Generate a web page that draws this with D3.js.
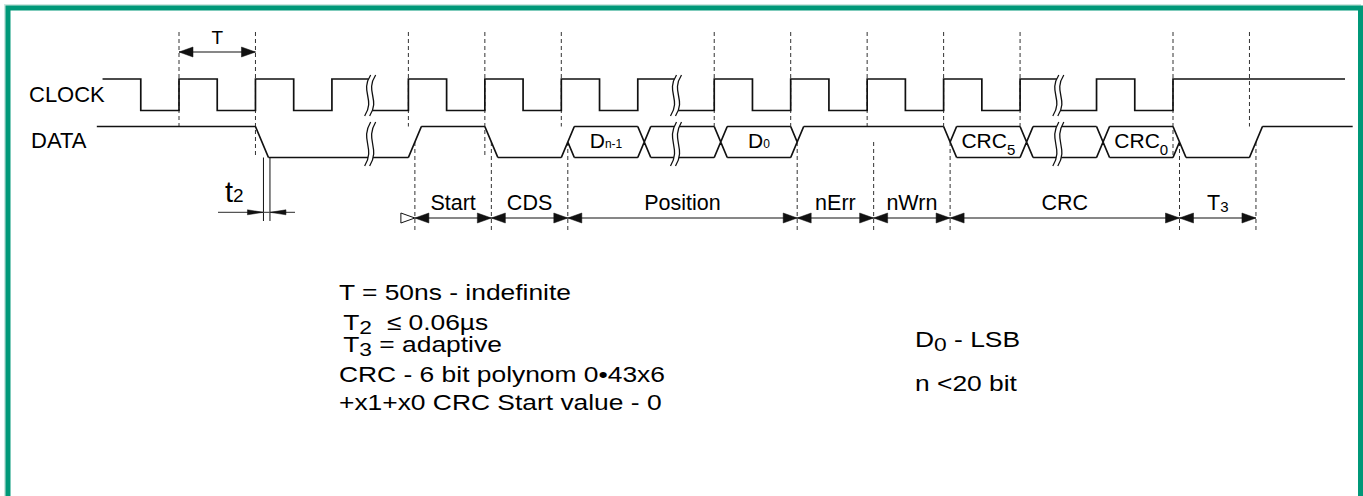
<!DOCTYPE html>
<html>
<head>
<meta charset="utf-8">
<script src="https://cdn.jsdelivr.net/npm/d3@7"></script>
<style>
  html, body { margin: 0; padding: 0; background: #fff; }
  svg { display: block; }
  text { font-family: "Liberation Sans", Arial, sans-serif; fill: #000; }
</style>
</head>
<body>
<svg id="chart" width="1363" height="496"></svg>
<script>
// steps are half clock periods, step 0 = first marked rising edge
const clockEdges = [-1, 0, 1, 2, 3, 4, 6, 7, 8, 9, 10, 11, 12, 14, 15, 16, 17, 18, 19, 20, 21, 22, 24, 25, 26];
const clockSpan = [-2, 30.5];
const breakSteps = [5, 13, 23];

const dataBounds = [-2.15, 2, 6, 8, 10, 12, 14, 16, 20, 22, 24, 26, 28, 30.7];
const dataLevels = ["hi", "lo", "hi", "lo", "bus", "bus", "bus", "hi", "bus", "bus", "bus", "lo", "hi"];
const busNames = ["", "", "", "", "D", "", "D", "", "CRC", "", "CRC", "", ""];
const busSubs = ["", "", "", "", "n-1", "", "0", "", "5", "", "0", "", ""];

const guideSteps = [0, 2, 6, 8, 10, 14, 16, 18, 20, 22, 26, 28];
const fieldBounds = [6, 8, 10, 16, 18, 20, 26, 28];
const fieldNames = ["Start", "CDS", "Position", "nErr", "nWrn", "CRC", "T"];
const fieldSubs = ["", "", "", "", "", "", "3"];

const noteLines = [
  ["T = 50ns - indefinite"],
  ["T", "2", "\u00a0 \u2264 0.06\u00b5s"],
  ["T", "3", " = adaptive"],
  ["CRC - 6 bit polynom 0\u202243x6"],
  ["+x1+x0 CRC Start value - 0"]
];
const sideNotes = [["D", "0", " - LSB"], ["n <20 bit"]];

// ---- layout
const svg = d3.select("#chart");
const x = d3.scaleLinear().domain([0, 26]).range([179, 1173]);
const clk = { hi: 79, lo: 110.5 };
const dat = { hi: 126.5, lo: 157.5 };
dat.mid = (dat.hi + dat.lo) / 2;
const slant = 13;
const ink = "#111";

/** frame */
svg.append("rect").attr("x", 5).attr("y", 5).attr("width", 1355).attr("height", 520)
  .attr("fill", "none").attr("stroke", "#cde6df").attr("stroke-width", 2);
svg.append("rect").attr("x", 8).attr("y", 8).attr("width", 1352.5).attr("height", 520)
  .attr("fill", "none").attr("stroke", "#009878").attr("stroke-width", 5);

/** dashed guides from the top down to the data line */
function levelAt(k) {
  for (let i = 0; i < dataLevels.length; i++) {
    if (k >= dataBounds[i] && k < dataBounds[i + 1]) return dataLevels[i];
  }
  return "hi";
}
svg.selectAll(".guideTop").data(guideSteps).join("line")
  .attr("class", "guideTop")
  .attr("x1", d => x(d)).attr("x2", d => x(d))
  .attr("y1", 32).attr("y2", d => levelAt(d) === "lo" ? dat.lo : dat.hi)
  .attr("stroke", "#333").attr("stroke-width", 1).attr("stroke-dasharray", "4,3");

svg.selectAll(".guideLow").data(fieldBounds).join("line")
  .attr("class", "guideLow")
  .attr("x1", d => x(d) + slant / 2).attr("x2", d => x(d) + slant / 2)
  .attr("y1", dat.mid).attr("y2", 233)
  .attr("stroke", "#333").attr("stroke-width", 1).attr("stroke-dasharray", "4,3");

/** clock */
const trans = clockEdges.concat(breakSteps).sort((a, b) => a - b);
let lvl = true;
let cp = `M${x(clockSpan[0])},${clk.hi}`;
trans.forEach(k => {
  const y0 = lvl ? clk.hi : clk.lo;
  lvl = !lvl;
  const y1 = lvl ? clk.hi : clk.lo;
  cp += `L${x(k)},${y0}` + (breakSteps.includes(k) ? `M${x(k)},${y1}` : `L${x(k)},${y1}`);
});
cp += `L${x(clockSpan[1])},${lvl ? clk.hi : clk.lo}`;
svg.append("path").attr("d", cp).attr("fill", "none").attr("stroke", ink).attr("stroke-width", 1.7);

/** data */
const dp = [];
dataLevels.forEach((lev, i) => {
  const xa = x(dataBounds[i]), xb = x(dataBounds[i + 1]);
  const start = i > 0 ? xa + slant : xa;
  if (lev !== "lo") dp.push(`M${start},${dat.hi}L${xb},${dat.hi}`);
  if (lev !== "hi") dp.push(`M${start},${dat.lo}L${xb},${dat.lo}`);
  if (i === 0) return;
  const prev = dataLevels[i - 1];
  const x0 = xa, x1 = xa + slant, xm = xa + slant / 2;
  const H = dat.hi, L = dat.lo, M = dat.mid;
  if (prev !== "lo" && lev !== "hi") dp.push(`M${x0},${H}L${x1},${L}`);
  if (prev !== "hi" && lev !== "lo") dp.push(`M${x0},${L}L${x1},${H}`);
  if (prev === "lo" && lev === "bus") dp.push(`M${xm},${M}L${x1},${L}`);
  if (prev === "hi" && lev === "bus") dp.push(`M${xm},${M}L${x1},${H}`);
  if (prev === "bus" && lev === "hi") dp.push(`M${x0},${H}L${xm},${M}`);
  if (prev === "bus" && lev === "lo") dp.push(`M${x0},${L}L${xm},${M}`);
});
svg.append("path").attr("d", dp.join("")).attr("fill", "none").attr("stroke", ink).attr("stroke-width", 1.7);

/** bus labels */
dataLevels.forEach((lev, i) => {
  if (!busNames[i]) return;
  const cx = (x(dataBounds[i]) + x(dataBounds[i + 1])) / 2 + slant / 2;
  const big = busNames[i] === "CRC";
  const t = svg.append("text").attr("x", cx).attr("y", 148.3)
    .attr("text-anchor", "middle").attr("font-size", 21);
  t.append("tspan").text(busNames[i]);
  t.append("tspan").attr("font-size", big ? 15 : 12).attr("dy", big ? 6.5 : 0).text(busSubs[i]);
});

/** break marks */
function sCurve(xc, yt, yb) {
  const h = yb - yt;
  return [[xc + 3, yt], [xc - 8, yt + h * 0.42], [xc + 8, yt + h * 0.58], [xc - 3, yb]];
}
function breakMark(xc, yt, yb) {
  const a = sCurve(xc - 2.5, yt, yb), b = sCurve(xc + 2.5, yt, yb);
  const band = `M${a[0]}C${a[1]} ${a[2]} ${a[3]}L${b[3]}C${b[2]} ${b[1]} ${b[0]}Z`;
  svg.append("path").attr("d", band).attr("fill", "#fff").attr("stroke", "none");
  [a, b].forEach(c => svg.append("path").attr("d", `M${c[0]}C${c[1]} ${c[2]} ${c[3]}`)
    .attr("fill", "none").attr("stroke", ink).attr("stroke-width", 1.3));
}
breakSteps.forEach(k => {
  breakMark(x(k), 75, 116);
  breakMark(x(k), 122, 166);
});

/** arrows */
function head(tx, y, dir, len, w, filled) {
  svg.append("path")
    .attr("d", `M${tx},${y}L${tx - dir * len},${y - w}L${tx - dir * len},${y + w}Z`)
    .attr("fill", filled ? ink : "#fff").attr("stroke", ink).attr("stroke-width", filled ? 0.5 : 1);
}
function dimLine(xa, xb, y) {
  svg.append("line").attr("x1", xa).attr("x2", xb).attr("y1", y).attr("y2", y)
    .attr("stroke", ink).attr("stroke-width", 1.2);
  head(xa, y, -1, 14, 5, true);
  head(xb, y, 1, 14, 5, true);
}

// T period
dimLine(x(0), x(2), 52);
svg.append("text").attr("x", (x(0) + x(2)) / 2).attr("y", 43.5).attr("text-anchor", "middle")
  .attr("font-size", 19).text("T");

// fields
const dimY = 218;
fieldNames.forEach((name, i) => {
  const xa = x(fieldBounds[i]) + slant / 2, xb = x(fieldBounds[i + 1]) + slant / 2;
  dimLine(xa, xb, dimY);
  const t = svg.append("text").attr("x", (xa + xb) / 2).attr("y", 209.5)
    .attr("text-anchor", "middle").attr("font-size", 21.5);
  t.append("tspan").text(name);
  if (fieldSubs[i]) t.append("tspan").attr("font-size", 15).attr("dy", 2.5).text(fieldSubs[i]);
});
head(x(fieldBounds[0]) + slant / 2, dimY, 1, 14, 5, false);

// t2
const t2a = x(2) + 8, t2b = x(2) + 14.5;
[t2a, t2b].forEach(v => svg.append("line").attr("x1", v).attr("x2", v)
  .attr("y1", dat.lo).attr("y2", 221).attr("stroke", ink).attr("stroke-width", 1));
svg.append("line").attr("x1", 218).attr("x2", 295).attr("y1", 212.3).attr("y2", 212.3)
  .attr("stroke", "#555").attr("stroke-width", 1.2);
head(t2a, 212.3, 1, 16, 2.5, true);
head(t2b, 212.3, -1, 16, 2.5, true);
const t2 = svg.append("text").attr("x", 225).attr("y", 201.7).attr("font-size", 29);
t2.append("tspan").text("t");
t2.append("tspan").attr("font-size", 19).text("2");

/** signal names */
svg.append("text").attr("x", 29).attr("y", 101.5).attr("font-size", 22).text("CLOCK");
svg.append("text").attr("x", 31).attr("y", 147.5).attr("font-size", 22).text("DATA");

/** notes */
const noteBase = [300, 330, 351.7, 381.7, 410];
const notes = svg.append("g").attr("transform", "translate(339,0) scale(1.2,1)");
function noteText(g, parts, xx, y) {
  const t = g.append("text").attr("x", xx).attr("y", y).attr("font-size", 22).attr("xml:space", "preserve");
  t.append("tspan").text(parts[0]);
  if (parts.length > 1) {
    t.append("tspan").attr("font-size", 19).attr("dy", 4).text(parts[1]);
    t.append("tspan").attr("dy", -4).text(parts[2]);
  }
}
noteLines.forEach((p, i) => noteText(notes, p, p.length > 1 ? 3.5 : 0, noteBase[i]));
const side = svg.append("g").attr("transform", "translate(915,0) scale(1.2,1)");
noteText(side, sideNotes[0], 0, 346.7);
noteText(side, sideNotes[1], 0, 390.7);
</script>
</body>
</html>
